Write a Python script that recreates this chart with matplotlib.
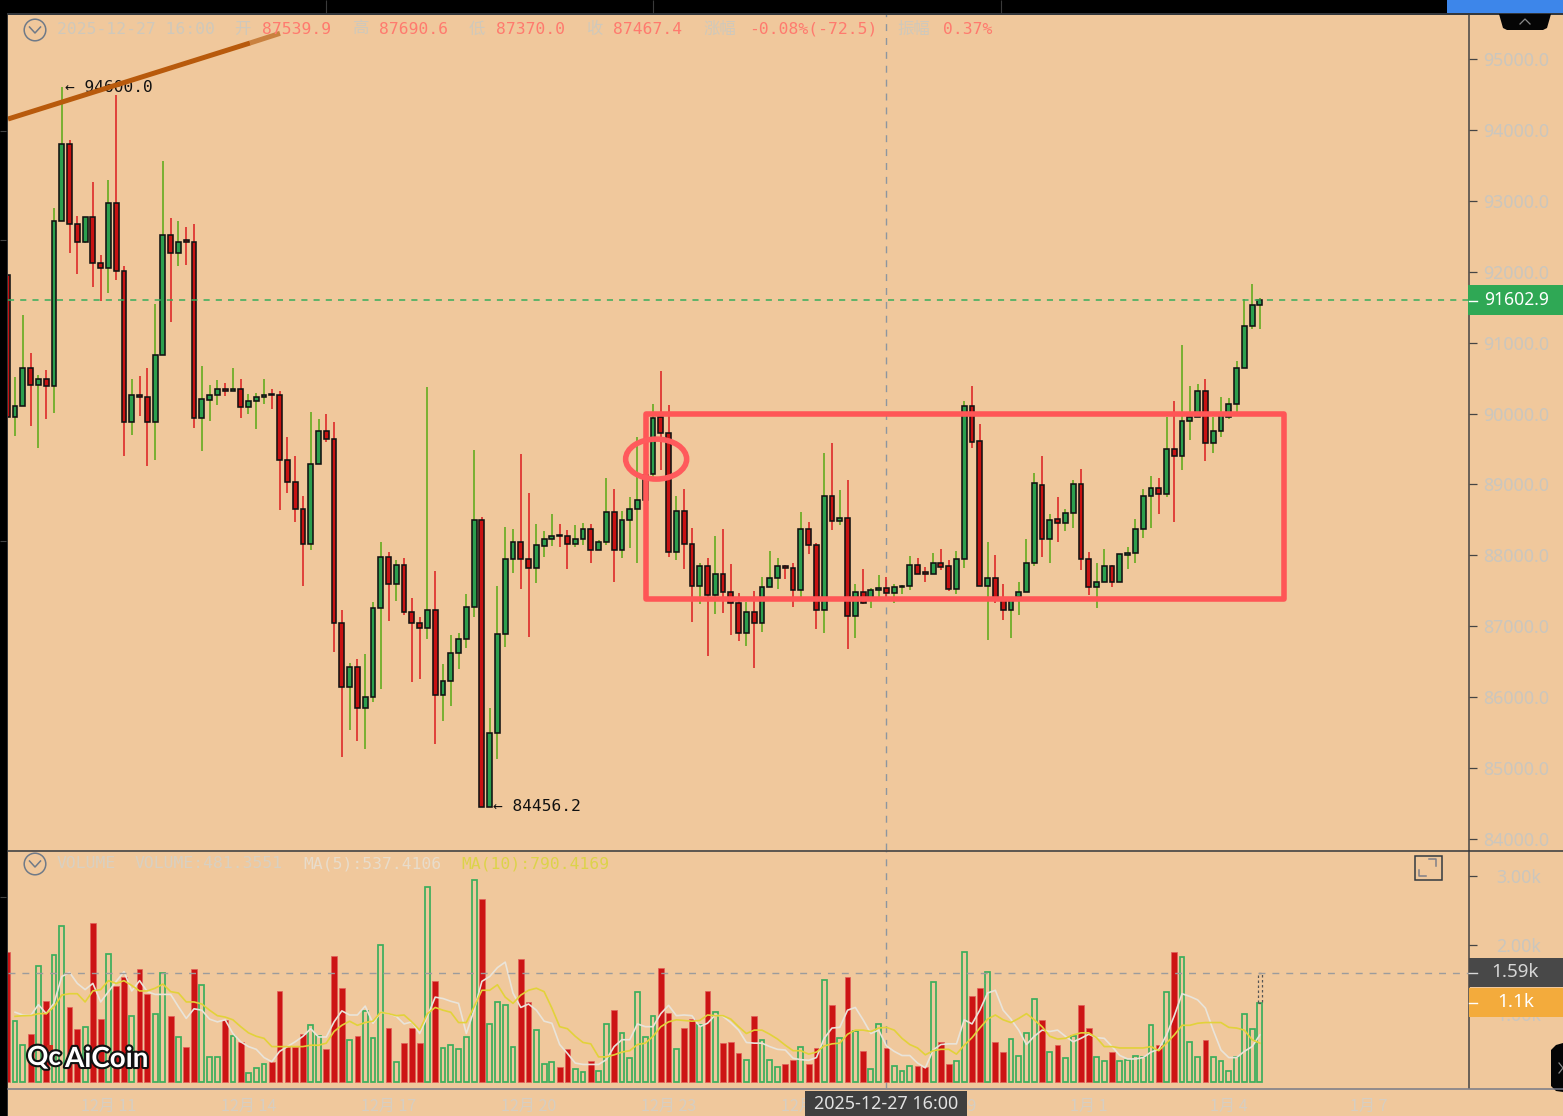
import numpy as np
import matplotlib
matplotlib.use('Agg')
import matplotlib.pyplot as plt
import matplotlib.patheffects as pe
from matplotlib.patches import Rectangle, Ellipse, Circle, Polygon

W, H = 1563, 1116
BG = '#f0c89c'
CJK = ['Noto Sans CJK SC', 'DejaVu Sans']
MONO = ['DejaVu Sans Mono', 'Noto Sans CJK SC']

opens = [91953, 89951, 90106, 90642, 90402, 90487, 90388, 92715, 93801, 92673,
         92419, 92771, 92123, 92052, 92969, 92010, 89880, 90261, 90233, 89880,
         90825, 92518, 92264, 92447, 92419, 89937, 90190, 90261, 90345, 90317,
         90345, 90092, 90176, 90233, 90275, 90261, 89344, 89034, 88653, 88159,
         89288, 89753, 89640, 87045, 86143, 86425, 85846, 86001, 87257, 87976,
         87595, 87863, 87201, 87045, 86975, 87229, 86030, 86227, 86622, 86820,
         87271, 88498, 84456, 85494, 86890, 87948, 88187, 87948, 87821, 88131,
         88230, 88286, 88272, 88159, 88230, 88371, 88075, 88187, 88611, 88075,
         88498, 88653, 88780, 89147, 89951, 89725, 88047, 88625, 88159, 87567,
         87849, 87440, 87736, 87482, 87327, 86904, 87201, 87045, 87553, 87680,
         87849, 87821, 87511, 88371, 88145, 87229, 88836, 88484, 88526, 87144,
         87482, 87398, 87511, 87539.9, 87468, 87553, 87567, 87863, 87764, 87736,
         87891, 87849, 87525, 87948, 90106, 89612, 87567, 87680, 87398, 87229,
         87412, 87482, 87891, 88992, 88230, 88512, 88456, 88597, 89006, 87948,
         87553, 87623, 87849, 87623, 88004, 88032, 88371, 88836, 88949, 88864,
         89499, 89400, 89894, 89951, 90317, 89584, 89753, 89951, 90134, 90642,
         91234, 91530]
closes = [89951, 90106, 90642, 90402, 90487, 90388, 92715, 93801, 92673, 92419,
          92771, 92123, 92052, 92969, 92010, 89880, 90261, 90233, 89880, 90825,
          92518, 92264, 92419, 92419, 89937, 90204, 90261, 90345, 90317, 90345,
          90092, 90176, 90233, 90261, 90261, 89344, 89034, 88653, 88159, 89288,
          89753, 89640, 87045, 86143, 86425, 85846, 86001, 87257, 87976, 87595,
          87863, 87201, 87045, 86975, 87229, 86030, 86227, 86622, 86820, 87271,
          88498, 84456.2, 85494, 86890, 87948, 88187, 87948, 87821, 88145, 88230,
          88272, 88272, 88159, 88230, 88371, 88075, 88187, 88611, 88075, 88498,
          88653, 88780, 89133, 89937, 89725, 88047, 88625, 88159, 87567, 87849,
          87440, 87736, 87482, 87327, 86904, 87201, 87045, 87553, 87680, 87849,
          87821, 87511, 88371, 88145, 87229, 88836, 88484, 88526, 87144, 87482,
          87327, 87511, 87539, 87467.4, 87553, 87567, 87863, 87736, 87736, 87891,
          87835, 87525, 87948, 90106, 89598, 87567, 87680, 87398, 87229, 87398,
          87482, 87891, 89020, 88230, 88498, 88456, 88597, 89006, 87948, 87553,
          87623, 87849, 87623, 88018, 88032, 88371, 88836, 88949, 88864, 89499,
          89400, 89894, 89951, 90317, 89584, 89753, 89979, 90134, 90642, 91234,
          91530, 91602.9]
highs = [92450, 90515, 91389, 90853, 90543, 90614, 92898, 94600, 93857, 92785,
         92771, 93265, 92236, 93293, 94492, 92080, 90487, 90529, 90642, 91544,
         93561, 92757, 92715, 92630, 92673, 90670, 90402, 90472, 90430, 90642,
         90487, 90275, 90289, 90487, 90345, 90317, 89669, 89400, 88836, 90021,
         89922, 89993, 89880, 87229, 86481, 86537, 86608, 87341, 88187, 88047,
         87934, 87962, 87398, 87130, 90374, 87779, 86467, 86876, 86904, 87454,
         89485, 88540, 85846, 87567, 88399, 88371, 89429, 88879, 88442, 88343,
         88583, 88442, 88357, 88427, 88456, 88442, 88216, 89090, 88935, 88625,
         88822, 89669, 89203, 90134, 90599, 90120, 88836, 88935, 88385, 87892,
         87962, 88272, 88371, 87877, 87468, 87341, 87497, 87694, 88061, 87962,
         87863, 87892, 88611, 88470, 88173, 89443, 89584, 88921, 89062, 87595,
         87807, 87539, 87722, 87690.6, 87595, 87581, 87990, 87962, 87835, 88032,
         88089, 87934, 88061, 90176, 90388, 89852, 88187, 88004, 87595, 87398,
         87623, 88230, 89161, 89400, 88583, 88822, 88653, 89062, 89217, 88047,
         87891, 88089, 87863, 88018, 88117, 88512, 88935, 89119, 89090, 89951,
         90176, 90966, 90388, 90416, 90487, 89951, 90233, 90219, 90741, 91615,
         91826, 91629]
lows = [89950, 89683, 90106, 89824, 89513, 89922, 90007, 92715, 92264, 91968,
        92405, 91784, 91587, 91700, 91883, 89400, 89697, 89965, 89260, 89344,
        90825, 91291, 92080, 92094, 89795, 89471, 89894, 90120, 90247, 90317,
        89937, 89993, 89781, 90134, 90064, 88639, 88879, 88470, 87567, 88075,
        89288, 89598, 86636, 85155, 85536, 85381, 85268, 85931, 86115, 87073,
        87356, 87158, 86213, 86255, 86820, 85339, 85663, 85875, 86396, 86693,
        87130, 84456.2, 84456.2, 85127, 86707, 87750, 87525, 86848, 87609, 87976,
        88131, 88117, 87807, 88117, 88145, 87892, 88075, 88145, 87623, 87962,
        88103, 87892, 88780, 89062, 89203, 87976, 87934, 87807, 87059, 87313,
        86580, 87172, 87186, 86876, 86791, 86721, 86411, 86918, 87553, 87525,
        87666, 87271, 87412, 88018, 86961, 86904, 88357, 88427, 86679, 86834,
        87313, 87257, 87412, 87370, 87327, 87454, 87511, 87736, 87623, 87736,
        87793, 87497, 87454, 87821, 89513, 87567, 86805, 87327, 87088, 86834,
        87158, 87482, 87849, 87976, 87891, 88187, 88343, 88385, 87793, 87440,
        87257, 87623, 87553, 87623, 87807, 87891, 88244, 88385, 88583, 88822,
        88470, 89203, 89626, 89951, 89330, 89443, 89669, 89922, 90007, 90642,
        91192, 91192]

# volume in thousands
volumes = [1.90, 0.89, 0.54, 0.70, 1.70, 1.18, 1.85, 2.27, 1.09, 0.77,
           0.81, 2.32, 0.92, 1.87, 1.40, 1.53, 0.96, 1.65, 1.29, 0.99,
           1.59, 0.96, 0.66, 0.52, 1.65, 1.42, 0.37, 0.37, 0.91, 0.67,
           0.59, 0.13, 0.21, 0.26, 0.29, 1.33, 0.52, 0.52, 0.70, 0.83,
           0.67, 0.49, 1.84, 1.38, 0.61, 0.68, 1.04, 0.65, 2.00, 0.79,
           0.29, 0.57, 0.79, 0.57, 2.84, 1.47, 0.50, 0.55, 0.48, 0.66,
           2.95, 2.67, 0.85, 1.17, 1.12, 0.52, 1.80, 1.17, 0.76, 0.26,
           0.29, 0.22, 0.48, 0.19, 0.15, 0.31, 0.17, 0.85, 1.05, 0.72,
           0.35, 1.31, 0.66, 0.96, 1.67, 1.01, 0.48, 0.79, 0.92, 0.83,
           1.33, 1.03, 0.57, 0.59, 0.42, 0.33, 0.97, 0.61, 0.33, 0.22,
           0.26, 0.33, 0.52, 0.27, 0.50, 1.49, 1.12, 0.64, 1.53, 0.74,
           0.46, 0.19, 0.85, 0.50, 0.24, 0.17, 0.24, 0.24, 0.22, 1.46,
           0.59, 0.27, 0.31, 1.90, 1.25, 1.38, 1.61, 0.59, 0.44, 0.63,
           0.39, 0.72, 1.22, 0.90, 0.44, 0.55, 0.35, 0.68, 1.12, 0.79,
           0.37, 0.31, 0.44, 0.31, 0.33, 0.39, 0.37, 0.83, 0.55, 1.31,
           1.90, 1.82, 0.59, 0.37, 0.62, 0.37, 0.31, 0.17, 0.37, 1.00,
           0.77, 1.16]

# starting from the second bar
ma5 = [1.02, .98, .97, 1.13, 1.00, 1.15, 1.54, 1.60, 1.44, 1.35,
       1.44, 1.17, 1.32, 1.47, 1.61, 1.33, 1.48, 1.32, 1.28, 1.28,
       1.28, 1.10, .93, 1.07, 1.05, .92, .88, .91, .71, .59,
       .52, .48, .36, .30, .45, .52, .59, .67, .78, .66,
       .66, .88, 1.04, .98, .98, 1.11, .86, 1.02, 1.00, .96,
       .85, .88, .71, .96, 1.24, 1.22, 1.18, 1.15, .71, 1.05,
       1.47, 1.54, 1.67, 1.75, 1.30, 1.09, 1.14, 1.05, .89, .86,
       .55, .42, .28, .26, .26, .26, .33, .52, .62, .62,
       .85, .81, .81, 1.00, 1.12, .97, .98, .97, .81, .86,
       .98, .96, .87, .76, .58, .57, .57, .52, .48, .47,
       .35, .33, .32, .36, .64, .79, .80, 1.05, 1.09, .91,
       .71, .76, .53, .45, .39, .39, .28, .21, .47, .55,
       .56, .56, .91, .85, 1.05, 1.30, 1.34, 1.05, .92, .76,
       .55, .67, .76, .74, .76, .67, .59, .64, .70, .65,
       .64, .52, .39, .34, .34, .36, .44, .48, .69, .97,
       1.29, 1.25, 1.20, 1.08, .76, .47, .36, .36, .45, .52,
       .69]
ma10 = [.96, .97, .97, 1.00, 1.00, 1.10, 1.27, 1.29, 1.29, 1.17,
        1.33, 1.35, 1.48, 1.44, 1.48, 1.41, 1.33, 1.33, 1.37, 1.43,
        1.32, 1.30, 1.17, 1.17, 1.14, 1.05, .97, .95, .91, .81,
        .72, .67, .64, .52, .52, .52, .52, .52, .54, .54,
        .57, .74, .83, .89, .83, .87, .89, 1.02, 1.00, .97,
        .98, .88, .76, 1.00, 1.09, 1.05, 1.02, .87, .87, 1.10,
        1.34, 1.34, 1.42, 1.24, 1.15, 1.27, 1.34, 1.37, 1.32, 1.08,
        .81, .78, .67, .58, .56, .37, .37, .40, .44, .46,
        .55, .57, .67, .81, .88, .91, .90, .89, .90, .98,
        .97, .97, .92, .81, .71, .76, .76, .70, .63, .54,
        .46, .46, .41, .44, .53, .56, .57, .70, .76, .76,
        .74, .79, .80, .76, .64, .55, .50, .40, .46, .48,
        .48, .41, .54, .65, .79, .92, .98, .91, .87, .93,
        1.00, .91, .81, .67, .63, .64, .69, .72, .72, .65,
        .52, .52, .50, .50, .50, .50, .52, .46, .57, .69,
        .83, .83, .86, .87, .87, .87, .80, .79, .76, .62,
        .57]

price_ticks = [84000, 85000, 86000, 87000, 88000, 89000, 90000, 91000, 92000, 93000, 94000, 95000]
vol_ticks = [1.0, 2.0, 3.0]
date_labels = ['12月 11', '12月 14', '12月 17', '12月 20', '12月 23', '12月 26', '12月 29', '1月 1', '1月 4', '1月 7']
date_ticks = [13, 31, 49, 67, 85, 103, 121, 139, 157, 175]

last_price = 91602.9
cursor_idx = 113
cursor_vol = 1.59
last_vol = 1.16

# shapes drawn by the chart's user
trend_start = (0.09, 94154)
trend_mid = (31.2, 95226)
trend_end = (35.05, 95362)
box_left, box_right, box_top, box_bottom = 82.1, 164.1, 89993, 87388
ring_idx, ring_price, ring_w, ring_h = 83.4, 89358, 7.84, 564

opens, closes, highs, lows = map(np.array, (opens, closes, highs, lows))
volumes = np.array(volumes)
idx = np.arange(len(opens))
up = closes >= opens

fig = plt.figure(figsize=(W / 100, H / 100), dpi=100, facecolor=BG)


def px_axes(x0, y0, x1, y1):
    return fig.add_axes([x0 / W, 1 - y1 / H, (x1 - x0) / W, (y1 - y0) / H], facecolor=BG)


ax = px_axes(8, 14, 1469, 850)
vx = px_axes(8, 851, 1469, 1088)
xlim = ((8 - 7.3) / 7.78, (1469 - 7.3) / 7.78)

# Candles
ax.vlines(idx[up], lows[up], highs[up], color='#58a915', lw=1.1, zorder=2)
ax.vlines(idx[~up], lows[~up], highs[~up], color='#dc1c20', lw=1.1, zorder=2)
body_lo = np.minimum(opens, closes)
body_hi = np.maximum(opens, closes)
ax.bar(idx[up], (body_hi - body_lo)[up], bottom=body_lo[up], width=0.62,
       color='#2c9f4e', edgecolor='#111111', linewidth=1.15, zorder=3)
ax.bar(idx[~up], (body_hi - body_lo)[~up], bottom=body_lo[~up], width=0.62,
       color='#c81212', edgecolor='#111111', linewidth=1.15, zorder=3)
ax.set_xlim(*xlim)
ax.set_ylim(83845, 95635)

ax.axhline(last_price, color='#37ad5b', lw=1.1, ls=(0, (4, 4)), zorder=4)
ax.annotate('← 94600.0', xy=(7, 94600), xytext=(2.5, 0), textcoords='offset points',
            family=MONO, fontsize=11.7, color='#111111', va='center', zorder=5)
ax.annotate('← 84456.2', xy=(62, 84456.2), xytext=(2.5, 0), textcoords='offset points',
            family=MONO, fontsize=11.7, color='#111111', va='center', zorder=5)

# Trend line, box and ring
ax.plot(*zip(trend_mid, trend_end), color='#c9813f', lw=3.6, solid_capstyle='butt', zorder=6)
ax.plot(*zip(trend_start, trend_mid), color='#b85a0c', lw=3.6, solid_capstyle='butt', zorder=6)
ax.add_patch(Rectangle((box_left, box_bottom), box_right - box_left, box_top - box_bottom,
                       fill=False, edgecolor='#ff5656', lw=4, joinstyle='round', zorder=7))
ax.add_patch(Ellipse((ring_idx, ring_price), ring_w, ring_h,
                     fill=False, edgecolor='#ff5a5c', lw=4, zorder=7))

# Volume
vx.bar(idx[~up], volumes[~up], width=0.74, color='#cc1414', edgecolor='#e0605a', linewidth=0.5, zorder=2)
vx.bar(idx[up], volumes[up], width=0.62, fill=False, edgecolor='#3cae5c', linewidth=1.25, zorder=2)
vx.bar(idx[-1], cursor_vol - last_vol, bottom=last_vol, width=0.55, fill=False,
       edgecolor='#555555', linewidth=0.9, ls=(0, (2, 2)), zorder=2)
vx.plot(idx[1:], ma5, color='#e9e4da', lw=1.2, zorder=3)
vx.plot(idx[1:], ma10, color='#e2d23a', lw=1.2, zorder=4)
vx.axhline(cursor_vol, color='#9c9c9c', lw=1.0, ls=(0, (5, 5)), zorder=4)
vx.set_xlim(*xlim)
vx.set_ylim(-0.083, 3.368)

for a in (ax, vx):
    a.axvline(cursor_idx, color='#8d96a0', lw=1.0, ls=(0, (5, 5)), zorder=1)
    for s in ('left', 'top', 'bottom'):
        a.spines[s].set_visible(False)
    a.spines['right'].set_color('#444444')
    a.spines['right'].set_linewidth(1.1)
    a.yaxis.tick_right()

ax.set_xticks([])
ax.set_yticks(price_ticks)
ax.set_yticklabels([f'{p:.1f}' for p in price_ticks], family='Noto Sans', fontsize=12.8, color='#cac6be')
ax.tick_params(axis='y', length=5.8, width=0.9, color='#444444', pad=4.5)

vx.set_yticks(vol_ticks)
vx.set_yticklabels([f'{v:.2f}k' for v in vol_ticks], family='Noto Sans', fontsize=12.8, color='#cac6be')
vx.tick_params(axis='y', length=5.8, width=0.9, color='#444444', pad=14)
vx.set_xticks(date_ticks)
vx.set_xticklabels(date_labels, family=CJK, fontsize=11.6, color='#d6cec2')
vx.tick_params(axis='x', length=0, pad=7)

# Window chrome and header, in pixel coordinates
top = fig.add_axes([0, 0, 1, 1], facecolor='none', zorder=10)
top.set_xlim(0, W)
top.set_ylim(H, 0)
top.axis('off')


def box(x0, y0, x1, y1, color, **kw):
    top.add_patch(Rectangle((x0, y0), x1 - x0, y1 - y0, facecolor=color, edgecolor='none', **kw))


box(0, 0, W, 13, '#000000')
box(0, 13, W, 14.5, '#33373c')
box(1447, 0, W, 13, '#3d86ea')
box(0, 0, 7, H, '#000000')
box(7, 14, 8, H, '#333333')
top.vlines([325.5, 652.5, 1000.5], 0, 13, color='#3a3a3a', lw=0.8)
top.hlines([131, 240, 541, 897], 0, 6, color='#444444', lw=0.8)
top.plot([8, W], [850.5, 850.5], color='#34383c', lw=1.1)
top.plot([8, W], [1088.5, 1088.5], color='#777a88', lw=1.1)

top.add_patch(Polygon([(1499, 14), (1551, 14), (1547, 28), (1543, 30), (1507, 30), (1503, 28)], facecolor='#050505'))
top.plot([1520, 1525, 1530], [24, 19, 24], color='#8a8a8a', lw=0.9)
top.add_patch(Polygon([(W, 1043), (1556, 1045), (1551, 1050), (1551, 1086), (1556, 1091), (W, 1092)], facecolor='#050505'))
top.plot([1559, 1563, 1559], [1063, 1068, 1073], color='#8a8a8a', lw=0.9)

for cy in (30, 864):
    top.add_patch(Circle((35, cy), 10.8, fill=False, edgecolor='#6f7a88', lw=1.1))
    top.plot([29.5, 35, 40.5], [cy - 3, cy + 3, cy - 3], color='#6f7a88', lw=1.1)

# expand icon
top.add_patch(Rectangle((1415, 856), 27, 24, fill=False, edgecolor='#333a40', lw=1.1))
top.plot([1429, 1436, 1436], [859, 859, 866], color='#808088', lw=1.1)
top.plot([1419, 1419, 1426], [870, 876, 876], color='#808088', lw=1.1)

# value flags on the axis
box(1468, 285, W, 315, '#2fa855')
top.plot([1469, 1477], [300.5, 300.5], color='white', lw=1)
top.text(1549, 300, '91602.9', family='Noto Sans', fontsize=12.6, fontweight='bold', color='white', ha='right', va='center')
box(1469, 958, W, 987, '#484848')
top.plot([1469, 1477], [973, 973], color='#d8d8d8', lw=1)
top.text(1539, 972, '1.59k', family='Noto Sans', fontsize=13.5, color='#d6d6d6', ha='right', va='center')
box(1469, 988, W, 1017, '#f3ab3c')
top.plot([1469, 1477], [1003, 1003], color='white', lw=1)
top.text(1534, 1002, '1.1k', family='Noto Sans', fontsize=13.5, color='white', ha='right', va='center')
box(805, 1091, 967, H, '#3f3f3f')
top.text(886, 1104, '2025-12-27 16:00', family='Noto Sans', fontsize=12.9, color='#e2e2e2', ha='center', va='center')

grey = '#cfc8bb'
red = '#ff7a6e'
header = [(57, '2025-12-27 16:00', grey), (234, '开', grey), (262, '87539.9', red),
          (352, '高', grey), (379, '87690.6', red), (469, '低', grey), (496, '87370.0', red),
          (586, '收', grey), (613, '87467.4', red), (703, '涨幅', grey),
          (749, '-0.08%(-72.5)', red), (897, '振幅', grey), (943, '0.37%', red)]
for hx, label, col in header:
    top.text(hx, 29, label, family=MONO, fontsize=11.8, color=col, va='center')

vol_header = [(57, 'VOLUME', '#d8d0c2'), (135, 'VOLUME:481.3551', '#d8d0c2'),
              (303, 'MA(5):537.4106', '#e8dccb'), (461, 'MA(10):790.4169', '#dcd34a')]
for hx, label, col in vol_header:
    top.text(hx, 864, label, family=MONO, fontsize=11.8, color=col, va='center')

# watermark
outline = [pe.withStroke(linewidth=3, foreground='#111111')]
top.text(65, 1059, 'AiCoin', family='Lato', fontsize=20, fontweight='bold', color='white', va='center', path_effects=outline)
top.text(27, 1057, 'Qc', family='Lato', fontsize=19, fontweight='bold', color='white', va='center', path_effects=outline)
box(47, 1045, 53, 1051, '#c9301c')

fig.savefig('out.png', dpi=100, facecolor=BG)
